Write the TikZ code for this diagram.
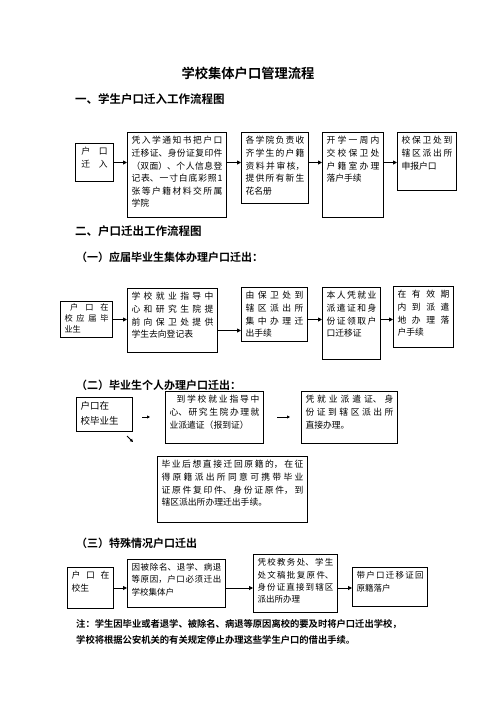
\documentclass[tikz,border=0pt]{standalone}
\usepackage{fontspec}
\setmainfont{Noto Sans CJK SC}[BoldFont={Noto Sans CJK SC Bold}]
\XeTeXlinebreaklocale "zh"
\XeTeXlinebreakskip=0pt plus 6pt
\hbadness=10000
\usetikzlibrary{arrows.meta}

\tikzset{
  flowbox/.style={draw, line width=1pt, inner sep=4pt, anchor=north west,
    font=\fontsize{8.8}{12.6}\selectfont},
  heading/.style={anchor=west, inner sep=0pt, font=\bfseries\fontsize{11}{13}\selectfont},
  flowarrow/.style={line width=0.9pt, -{Triangle[length=4pt,width=4pt]}},
  tinyarrow/.style={line width=0.8pt, -{Triangle[length=3pt,width=3pt]}},
}
\newcommand{\flowtext}[3]{\parbox[c][\dimexpr#2pt-8pt\relax][t]{\dimexpr#1pt-8pt\relax}{#3}}

\begin{document}
\begin{tikzpicture}[x=1pt,y=-1pt]
	\useasboundingbox (0,0) rectangle (496,702);
	\fill[white] (0,0) rectangle (496,702);

	\node[inner sep=0pt, font=\bfseries\fontsize{13.3}{15}\selectfont] (title) at (248,73) {学校集体户口管理流程};
	\node[heading, font=\bfseries\fontsize{11.5}{13}\selectfont] (part1) at (75,99) {一、学生户口迁入工作流程图};

	\node[flowbox] (enter) at (75,143) {\flowtext{38}{38}{\centering 户\quad 口\\迁\quad 入}};
	\node[flowbox] (pack) at (127,132) {\flowtext{99}{85}{凭入学通知书把户口\linebreak 迁移证、身份证复印件\linebreak （双面）、个人信息登\linebreak 记表、一寸白底彩照1\linebreak 张等户籍材料交所属\linebreak 学院}};
	\node[flowbox] (college) at (241,132) {\flowtext{67}{71}{各学院负责收\linebreak 齐学生的户籍\linebreak 资料并审核，\linebreak 提供所有新生\linebreak 花名册}};
	\node[flowbox] (register) at (322,132) {\flowtext{61}{85}{开学一周内\linebreak 交校保卫处\linebreak 户籍室办理\linebreak 落户手续}};
	\node[flowbox] (report) at (397,132) {\flowtext{59}{58}{校保卫处到\linebreak 辖区派出所\linebreak 申报户口}};

	\draw[flowarrow] (enter.east) -- (enter.east -| pack.west);
	\draw[flowarrow] (enter.east -| pack.east) -- (enter.east -| college.west);
	\draw[flowarrow] (enter.east -| college.east) -- (enter.east -| register.west);
	\draw[flowarrow] (enter.east -| register.east) -- (enter.east -| report.west);

	\node[heading, font=\bfseries\fontsize{11.5}{13}\selectfont] (part2) at (75,231) {二、户口迁出工作流程图};
	\node[heading] (sub1) at (76,257) {（一）应届毕业生集体办理户口迁出：};

	\node[flowbox, inner ysep=2.5pt, font=\fontsize{8.2}{10.6}\selectfont] (ingrad) at (60,301) {\flowtext{52}{39}{\hspace*{0.7em}户口在\linebreak 校应届毕\linebreak 业生}};
	\node[flowbox] (guide) at (127,288) {\flowtext{90}{64}{学校就业指导中\linebreak 心和研究生院提\linebreak 前向保卫处提供\linebreak 学生去向登记表}};
	\node[flowbox] (police) at (241,287) {\flowtext{66}{54}{由保卫处到\linebreak 辖区派出所\linebreak 集中办理迁\linebreak 出手续}};
	\node[flowbox] (permit) at (322,287) {\flowtext{58}{72}{本人凭就业\linebreak 派遣证和身\linebreak 份证领取户\linebreak 口迁移证}};
	\node[flowbox] (settle) at (393,286) {\flowtext{60}{61}{在有效期\linebreak 内到派遣\linebreak 地办理落\linebreak 户手续}};

	\coordinate (gh) at ([yshift=-10pt]guide.east);
	\draw[flowarrow] (ingrad.east) -- (ingrad.east -| guide.west);
	\draw[flowarrow] (gh) -- (gh -| police.west);
	\draw[flowarrow] (ingrad.east -| police.east) -- (ingrad.east -| permit.west);
	\draw[flowarrow] (ingrad.east -| permit.east) -- (ingrad.east -| settle.west);

	\node[heading] (sub2) at (76,385) {（二）毕业生个人办理户口迁出：};

	\node[flowbox, font=\fontsize{9.5}{15}\selectfont] (selfgrad) at (76,397) {\flowtext{56}{34}{户口在\\校毕业生}};
	\node[flowbox] (dispatch) at (165,391) {\flowtext{98}{52}{\hspace*{0.8em}到学校就业指导中\linebreak 心、研究生院办理就\linebreak 业派遣证（报到证）}};
	\node[flowbox] (direct) at (301,391) {\flowtext{96}{52}{凭就业派遣证、身\linebreak 份证到辖区派出所\linebreak 直接办理。}};
	\node[flowbox] (home) at (157,456) {\flowtext{150}{66}{毕业后想直接迁回原籍的，在征\linebreak 得原籍派出所同意可携带毕业\linebreak 证原件复印件、身份证原件，到\linebreak 辖区派出所办理迁出手续。}};

	\coordinate (t1a) at (142,417);
	\coordinate (t1b) at (150,417);
	\coordinate (t2a) at (277,417);
	\coordinate (t2b) at (290,417);
	\coordinate (t3a) at (127,436);
	\coordinate (t3b) at (133,442);
	\draw[tinyarrow] (t1a) -- (t1b);
	\draw[tinyarrow] (t2a) -- (t2b);
	\draw[tinyarrow] (t3a) -- (t3b);

	\node[heading] (sub3) at (76,543) {（三）特殊情况户口迁出};

	\node[flowbox] (special) at (67,567) {\flowtext{46}{41}{户口在\linebreak 校生}};
	\node[flowbox, font=\fontsize{8.5}{12.2}\selectfont] (cause) at (127,559) {\flowtext{98}{48}{因被除名、退学、病退\linebreak 等原因，户口必须迁出\linebreak 学校集体户}};
	\node[flowbox, font=\fontsize{8.5}{12.4}\selectfont] (approve) at (253,554) {\flowtext{84}{58}{凭校教务处、学生\linebreak 处文稿批复原件、\linebreak 身份证直接到辖区\linebreak 派出所办理}};
	\node[flowbox, font=\fontsize{8.5}{12.4}\selectfont] (back) at (352,567) {\flowtext{75}{39}{带户口迁移证回\linebreak 原籍落户}};

	\draw[flowarrow] (special.east) -- (special.east -| cause.west);
	\draw[flowarrow] (special.east -| cause.east) -- (special.east -| approve.west);
	\draw[flowarrow] (special.east -| approve.east) -- (special.east -| back.west);

	\node[heading, font=\bfseries\fontsize{9.3}{11}\selectfont] (note1) at (76,624) {注：学生因毕业或者退学、被除名、病退等原因离校的要及时将户口迁出学校，};
	\node[heading, font=\bfseries\fontsize{9.3}{11}\selectfont] (note2) at (76,640) {学校将根据公安机关的有关规定停止办理这些学生户口的借出手续。};
\end{tikzpicture}
\end{document}
